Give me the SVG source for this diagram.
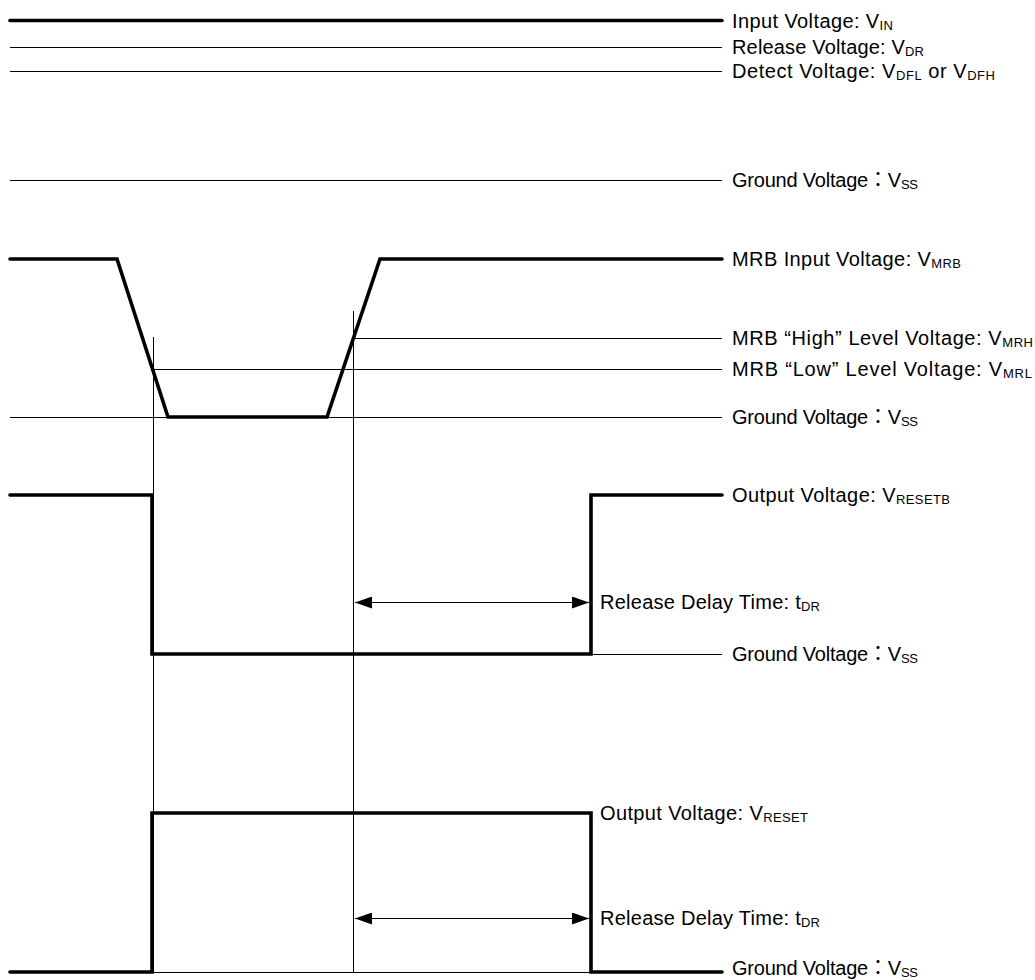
<svg xmlns="http://www.w3.org/2000/svg" width="1035" height="980" viewBox="0 0 1035 980">
<style>
.thick{fill:none;stroke:#000;stroke-width:3.6;stroke-linecap:round;stroke-linejoin:miter}
.thin{fill:none;stroke:#000;stroke-width:1}
.arr{fill:none;stroke:#000;stroke-width:1;marker-start:url(#ah);marker-end:url(#ah)}
.lbl{font-family:"Liberation Sans","Noto Sans CJK JP",Arial,sans-serif;font-size:20px;fill:#000}
.sub{font-size:13px}
</style>
<defs>
<marker id="ah" markerUnits="userSpaceOnUse" markerWidth="17" markerHeight="12" viewBox="0 0 17 12" refX="17" refY="6" orient="auto-start-reverse">
<path d="M0,0 L17,6 L0,12 z" fill="#000"/>
</marker>
</defs>
<rect width="1035" height="980" fill="#fff"/>

<g id="vin">
<line class="thick" x1="10" y1="20.5" x2="722" y2="20.5"/>
<text class="lbl" x="732" y="28" textLength="161" lengthAdjust="spacing">Input Voltage: V<tspan class="sub" dy="2">IN</tspan></text>
</g>
<g id="vdr">
<line class="thin" x1="10" y1="47.5" x2="722" y2="47.5"/>
<text class="lbl" x="732" y="54" textLength="192" lengthAdjust="spacing">Release Voltage: V<tspan class="sub" dy="2">DR</tspan></text>
</g>
<g id="vdf">
<line class="thin" x1="10" y1="71.5" x2="722" y2="71.5"/>
<text class="lbl" x="732" y="78" textLength="263" lengthAdjust="spacing">Detect Voltage: V<tspan class="sub" dy="2">DFL</tspan><tspan dy="-2"> or V</tspan><tspan class="sub" dy="2">DFH</tspan></text>
</g>
<g id="vss1">
<line class="thin" x1="10" y1="180.5" x2="722" y2="180.5"/>
<text class="lbl" x="732" y="187" textLength="186" lengthAdjust="spacing">Ground Voltage：V<tspan class="sub" dy="2">SS</tspan></text>
</g>

<g id="vmrb">
<path class="thick" d="M10,259 L117,259 L168,417 L327,417 L380,259 L722,259"/>
<text class="lbl" x="732" y="266" textLength="229" lengthAdjust="spacing">MRB Input Voltage: V<tspan class="sub" dy="2">MRB</tspan></text>
</g>
<g id="vmrh">
<line class="thin" x1="353" y1="338.5" x2="722" y2="338.5"/>
<text class="lbl" x="732" y="345" textLength="301" lengthAdjust="spacing">MRB “High” Level Voltage: V<tspan class="sub" dy="2">MRH</tspan></text>
</g>
<g id="vmrl">
<line class="thin" x1="153" y1="369.5" x2="722" y2="369.5"/>
<text class="lbl" x="732" y="376" textLength="300" lengthAdjust="spacing">MRB “Low” Level Voltage: V<tspan class="sub" dy="2">MRL</tspan></text>
</g>
<g id="vss2">
<line class="thin" x1="10" y1="417.5" x2="722" y2="417.5"/>
<text class="lbl" x="732" y="424" textLength="186" lengthAdjust="spacing">Ground Voltage：V<tspan class="sub" dy="2">SS</tspan></text>
</g>

<g id="vresetb">
<path class="thick" d="M10,495 L152,495 L152,654 L591,654 L591,495 L722,495"/>
<text class="lbl" x="732" y="502" textLength="218" lengthAdjust="spacing">Output Voltage: V<tspan class="sub" dy="2">RESETB</tspan></text>
</g>
<g id="tdr1">
<text class="lbl" x="600" y="609" textLength="220" lengthAdjust="spacing">Release Delay Time: t<tspan class="sub" dy="2">DR</tspan></text>
</g>
<g id="vss3">
<line class="thin" x1="591" y1="654.5" x2="722" y2="654.5"/>
<text class="lbl" x="732" y="661" textLength="186" lengthAdjust="spacing">Ground Voltage：V<tspan class="sub" dy="2">SS</tspan></text>
</g>

<g id="vreset">
<path class="thick" d="M10,972 L152,972 L152,813 L591,813 L591,972 L722,972"/>
<text class="lbl" x="600" y="820" textLength="208" lengthAdjust="spacing">Output Voltage: V<tspan class="sub" dy="2">RESET</tspan></text>
</g>
<g id="tdr2">
<text class="lbl" x="600" y="925" textLength="220" lengthAdjust="spacing">Release Delay Time: t<tspan class="sub" dy="2">DR</tspan></text>
</g>
<g id="vss4">
<line class="thin" x1="152" y1="972.5" x2="591" y2="972.5"/>
<text class="lbl" x="732" y="975" textLength="186" lengthAdjust="spacing">Ground Voltage：V<tspan class="sub" dy="2">SS</tspan></text>
</g>

<g id="connectors">
<line class="thin" x1="153.5" y1="337" x2="153.5" y2="972"/>
<line class="thin" x1="353.5" y1="311" x2="353.5" y2="972"/>
<line class="arr" x1="355" y1="602.5" x2="589" y2="602.5"/>
<line class="arr" x1="355" y1="918.5" x2="589" y2="918.5"/>
</g>
</svg>
